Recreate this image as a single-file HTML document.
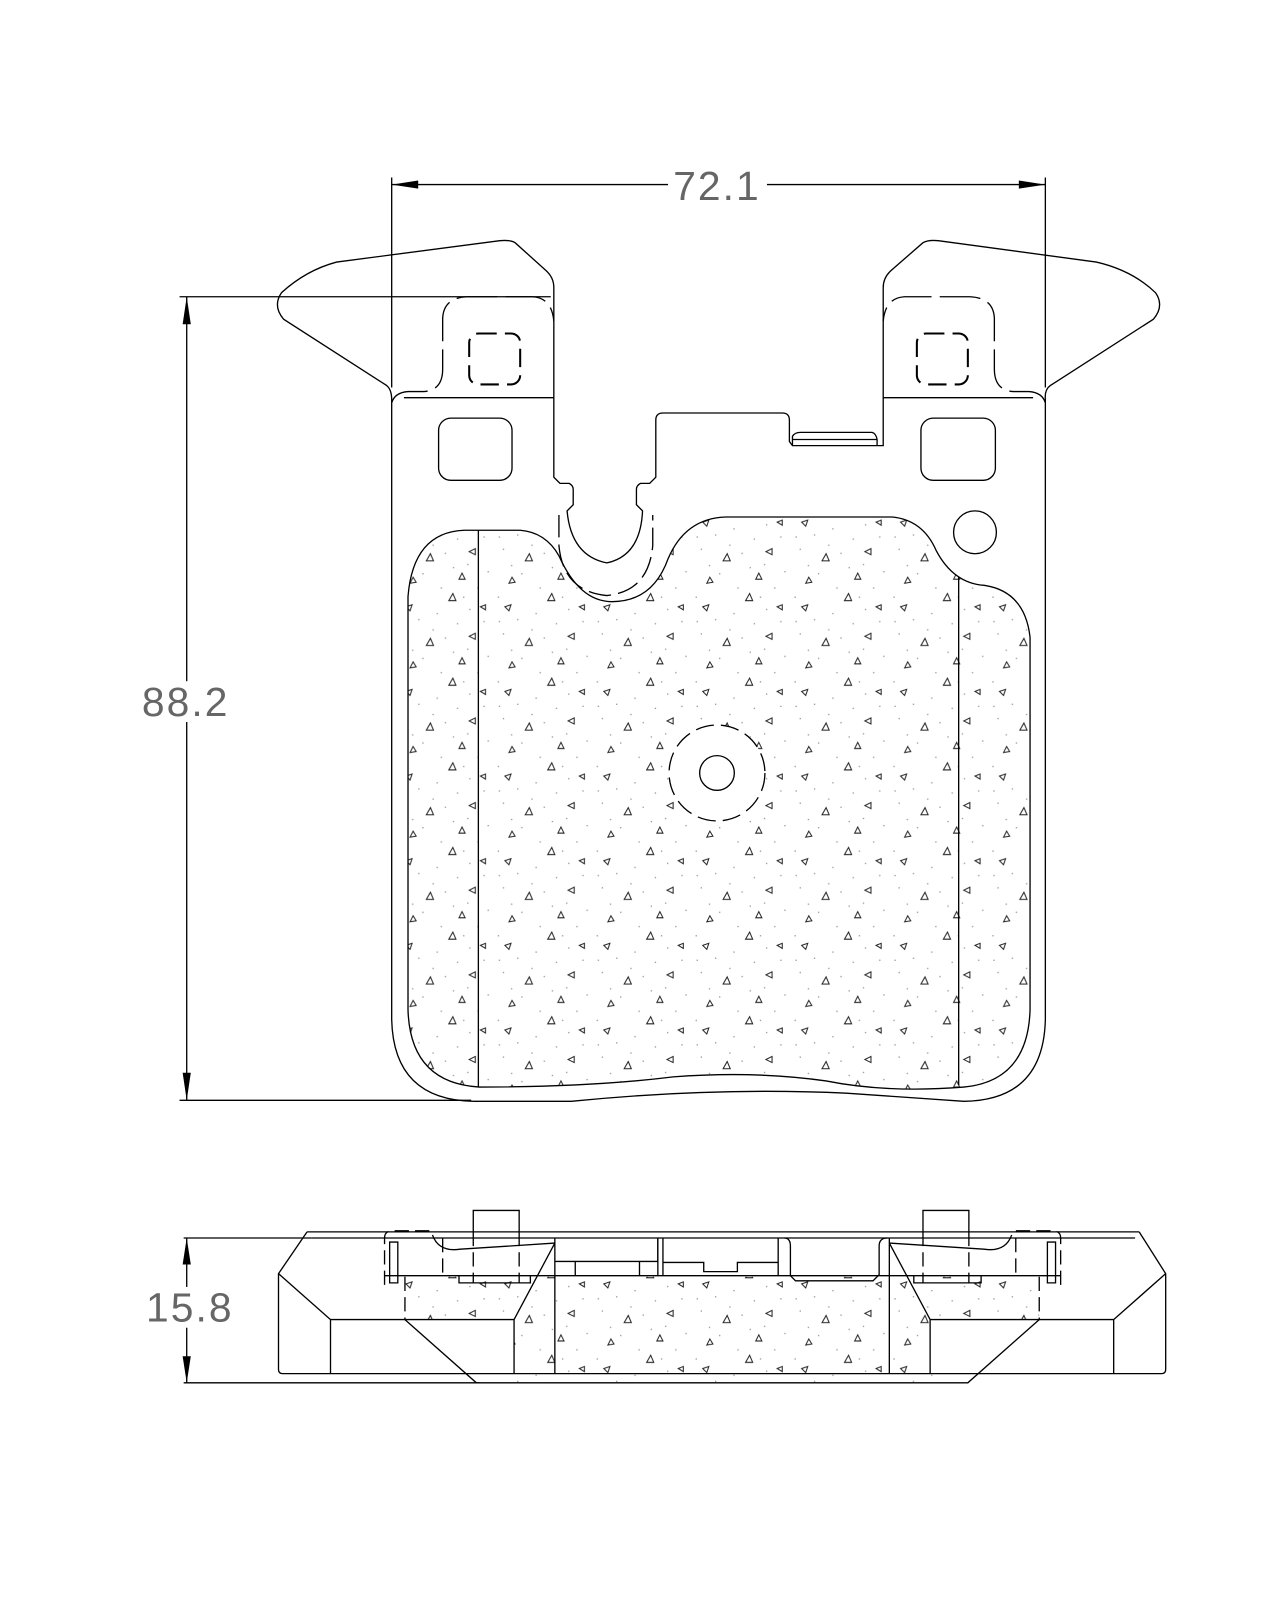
<!DOCTYPE html>
<html><head><meta charset="utf-8"><style>
html,body{margin:0;padding:0;background:#fff;}
svg{display:block;}
</style></head><body>
<svg width="1280" height="1600" viewBox="0 0 1255 1569" xmlns="http://www.w3.org/2000/svg">
<defs>
<pattern id="sp" width="97" height="83" patternUnits="userSpaceOnUse">
<g fill="none" stroke="#222" stroke-width="1">
<path d="M10,14 l6,-2 l-2,6 z"/>
<path d="M52,8 l7,0 l-3,-7 z"/>
<path d="M78,40 l-6,3 l6,3 z"/>
<path d="M30,52 l7,0 l-3,-7 z"/>
<path d="M62,70 l6,0 l-3,-6 z"/>
<path d="M88,12 l-5,2 l5,3 z"/>
<path d="M14,74 l6,-1 l-3,-5 z"/>
</g>
<g fill="#999">
<rect x="3" y="4" width="1.3" height="1.3"/><rect x="22" y="26" width="1.3" height="1.3"/>
<rect x="40" y="20" width="1.3" height="1.3"/><rect x="60" y="30" width="1.3" height="1.3"/>
<rect x="86" y="28" width="1.3" height="1.3"/><rect x="8" y="40" width="1.3" height="1.3"/>
<rect x="48" y="44" width="1.3" height="1.3"/><rect x="70" y="55" width="1.3" height="1.3"/>
<rect x="90" y="62" width="1.3" height="1.3"/><rect x="26" y="64" width="1.3" height="1.3"/>
<rect x="44" y="78" width="1.3" height="1.3"/><rect x="80" y="78" width="1.3" height="1.3"/>
<rect x="16" y="56" width="1.3" height="1.3"/><rect x="36" y="36" width="1.3" height="1.3"/>
<rect x="72" y="16" width="1.3" height="1.3"/><rect x="56" y="58" width="1.3" height="1.3"/>
<rect x="4" y="28" width="1.3" height="1.3"/><rect x="66" y="4" width="1.3" height="1.3"/>
</g>
</pattern>
</defs>
<g fill="none" stroke="#000" stroke-width="1.3">
<line x1="384" y1="174" x2="384" y2="380"/>
<line x1="1025" y1="174" x2="1025" y2="380"/>
<line x1="384" y1="181" x2="655" y2="181"/>
<line x1="752" y1="181" x2="1025" y2="181"/>
<line x1="176" y1="291" x2="540" y2="291"/>
<line x1="176" y1="1079" x2="462" y2="1079"/>
<line x1="183" y1="291" x2="183" y2="1079"/>
<line x1="180" y1="1214" x2="305" y2="1214"/>
<line x1="180" y1="1356" x2="470" y2="1356"/>
<line x1="183" y1="1214" x2="183" y2="1356"/>

<path d="M384,392 L384,1000 Q386,1079 465,1080 L560,1080 Q700,1066 830,1072 L945,1080 Q1023,1079 1025,1000 L1025,392
 Q1024,382 1030,378 L1131,313 Q1142,300 1133,287 Q1110,265 1075,257 L920,236 Q910,235 905,238 L874,265 Q866,272 866,282 L866,437 L777,437 L774,433 L774,412 Q774,405 767,405 L650,405 Q643,405 643,412 L643,468 L637,474 L628,474 Q624,476 624,480 L624,495 L630,501 Q628,545 595,552 Q560,545 556,501 L562,495 L562,480 Q562,476 558,474 L549,474 L543,468 L543,282 Q543,272 535,265 L505,238 Q500,235 490,236 L330,257 Q300,265 276,287 Q267,300 278,313 L379,378 Q384,382 384,392 Z"/>
<path d="M777,437 L777,428 Q779,424 785,424 L855,424 Q859,425 860,431 L860,437"/>
<line x1="777" y1="431" x2="860" y2="431"/>
<path d="M384,395 Q387,385 400,384 L415,384 Q434,383 434,362 L434,312 Q435,292 458,291 L522,291 Q541,292 543,315" stroke-dasharray="40,8"/>
<line x1="396" y1="390" x2="543" y2="390"/>
<path d="M1025,395 Q1022,385 1009,384 L994,384 Q975,383 975,362 L975,312 Q974,292 951,291 L887,291 Q868,292 866,315" stroke-dasharray="40,8"/>
<line x1="866" y1="390" x2="1013" y2="390"/>
<rect x="460" y="327" width="50" height="50" rx="9" stroke-width="2" stroke-dasharray="18,8"/>
<rect x="899" y="327" width="50" height="50" rx="9" stroke-width="2" stroke-dasharray="18,8"/>
<rect x="430" y="410" width="72" height="61" rx="12"/>
<rect x="903" y="410" width="73" height="61" rx="12"/>
<circle cx="956" cy="522" r="21"/>
<path d="M548,505 L548,535 Q552,580 595,584 Q636,580 640,535 L640,505" stroke-dasharray="22,7"/>

<path fill="url(#sp)" d="M400,585 Q405,522 455,520 L510,520 Q535,522 548,545 Q568,590 600,590 Q640,590 655,548 Q672,508 712,507 L875,507 Q905,510 918,540 Q935,572 965,574 Q1005,580 1010,625 L1010,990 Q1008,1060 945,1066 Q870,1072 810,1060 Q740,1050 660,1056 Q580,1066 470,1066 Q402,1062 400,990 Z"/>
<line x1="469" y1="520" x2="469" y2="1066"/>
<line x1="940" y1="566" x2="940" y2="1064"/>
<circle cx="703" cy="758" r="47" fill="#fff" stroke-dasharray="18,7"/>
<circle cx="703" cy="758" r="17" fill="#fff"/>

<path fill="url(#sp)" stroke="none" d="M397,1252 L1019,1252 L1019,1294 L949,1356 L467,1356 L397,1294 Z"/>
<path fill="#fff" stroke="none" d="M324,1294 L504,1294 L504,1347 L324,1347 Z M912,1294 L1092,1294 L1092,1347 L912,1347 Z"/>
<path d="M301,1208 L273,1249 L273,1343 Q273,1347 277,1347 L1139,1347 Q1143,1347 1143,1343 L1143,1249 L1117,1208"/>
<line x1="301" y1="1208" x2="1117" y2="1208"/>
<line x1="305" y1="1214" x2="1113" y2="1214"/>
<path d="M273,1249 L324,1294 L504,1294 M324,1294 L324,1347 M1143,1249 L1092,1294 L912,1294 M1092,1294 L1092,1347"/>
<path d="M544,1214 L544,1347 M504,1294 L504,1347 M544,1219 L504,1294 M397,1294 L467,1356 L949,1356 L1019,1294"/>
<path d="M872,1214 L872,1347 M912,1294 L912,1347 M872,1219 L912,1294"/>
<path d="M397,1252 L397,1294 M1019,1252 L1019,1294" stroke-dasharray="14,6"/>
<line x1="377" y1="1251" x2="1040" y2="1251"/>
<path d="M377,1260 L377,1214 Q377,1207 385,1207 L425,1207" stroke-dasharray="14,6"/>
<path d="M382,1258 L382,1218 L390,1218 L390,1258 Z"/>
<path d="M1040,1260 L1040,1214 Q1040,1207 1032,1207 L992,1207" stroke-dasharray="14,6"/>
<path d="M1035,1258 L1035,1218 L1027,1218 L1027,1258 Z"/>
<path d="M424,1211 Q430,1228 451,1225 L544,1219"/>
<path d="M992,1211 Q986,1228 965,1225 L872,1219"/>
<path d="M434,1214 L434,1251 M996,1214 L996,1251" stroke-dasharray="14,6"/>
<path d="M464,1208 L464,1187 L509,1187 L509,1208"/>
<path d="M464,1208 L464,1258 M509,1208 L509,1258" stroke-dasharray="14,6"/>
<path d="M450,1251 L450,1258 L520,1258 L520,1251"/>
<path d="M905,1208 L905,1187 L950,1187 L950,1208"/>
<path d="M905,1208 L905,1258 M950,1208 L950,1258" stroke-dasharray="14,6"/>
<path d="M896,1251 L896,1258 L962,1258 L962,1251"/>
<path d="M544,1237 L645,1237 L645,1214 M564,1237 L564,1251 M627,1237 L627,1251"/>
<path d="M650,1214 L650,1251 M645,1214 L645,1251"/>
<path d="M650,1238 L690,1238 L690,1247 L723,1247 L723,1238 L763,1238"/>
<path d="M763,1214 L763,1251 M769,1214 Q775,1214 775,1222 L775,1251 M775,1251 L780,1256 L856,1256 L862,1250 L862,1222 Q862,1214 870,1214"/>
</g>
<g fill="#000">
<path d="M384,181 L410,177 L410,185 Z"/>
<path d="M1025,181 L999,177 L999,185 Z"/>
<path d="M183,291 L179,318 L187,318 Z"/>
<path d="M183,1079 L179,1052 L187,1052 Z"/>
<path d="M183,1214 L179,1240 L187,1240 Z"/>
<path d="M183,1356 L179,1330 L187,1330 Z"/>
</g>
<rect x="140" y="668" width="86" height="40" fill="#fff"/>
<rect x="142" y="1262" width="86" height="40" fill="#fff"/>
<g font-family="Liberation Sans, sans-serif" font-size="40" fill="#666" text-anchor="middle">
<text x="703" y="196" letter-spacing="2">72.1</text>
<text x="182" y="702" letter-spacing="2">88.2</text>
<text x="186" y="1296" letter-spacing="2">15.8</text>
</g>
</svg>
</body></html>
